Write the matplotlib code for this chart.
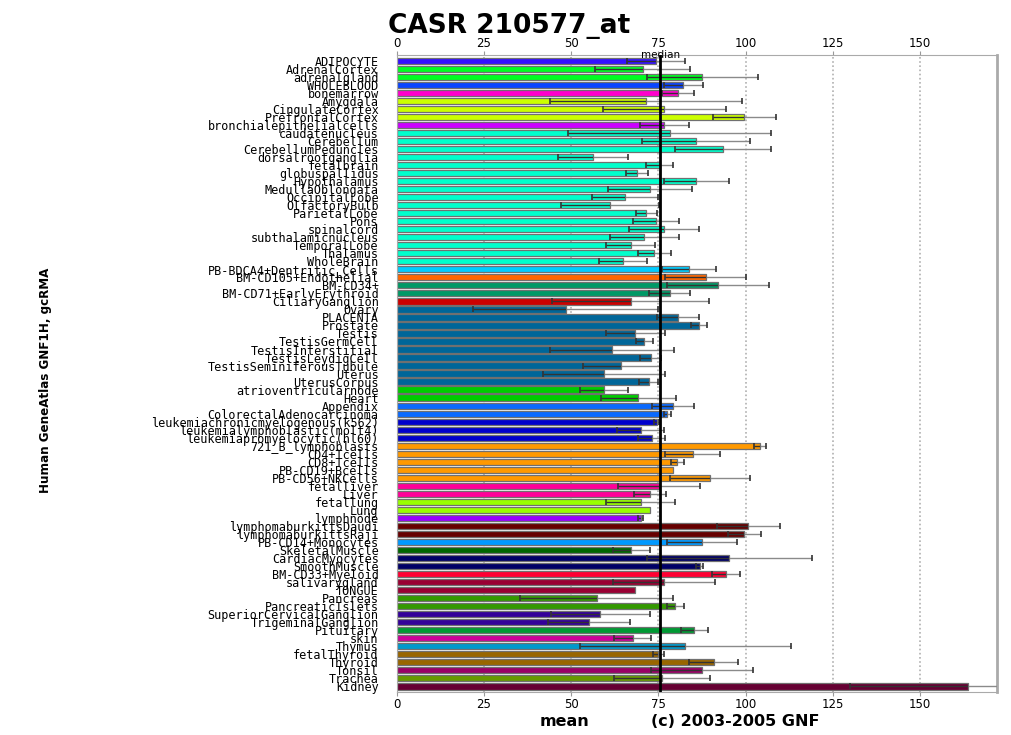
import numpy as np
import matplotlib.pyplot as plt

tissues = ["ADIPOCYTE", "AdrenalCortex", "adrenalgland", "WHOLEBLOOD", "bonemarrow",
           "Amygdala", "CingulateCortex", "PrefrontalCortex", "bronchialepithelialcells",
           "caudatenucleus", "Cerebellum", "CerebellumPeduncles", "dorsalrootganglia",
           "fetalbrain", "globuspallidus", "Hypothalamus", "MedullaOblongata",
           "OccipitalLobe", "OlfactoryBulb", "ParietalLobe", "Pons", "spinalcord",
           "subthalamicnucleus", "TemporalLobe", "Thalamus", "WholeBrain",
           "PB-BDCA4+Dentritic_Cells", "BM-CD105+Endothelial", "BM-CD34+",
           "BM-CD71+EarlyErythroid", "CiliaryGanglion", "Ovary", "PLACENTA", "Prostate",
           "Testis", "TestisGermCell", "TestisInterstitial", "TestisLeydigCell",
           "TestisSeminiferousTubule", "Uterus", "UterusCorpus", "atrioventricularnode",
           "Heart", "Appendix", "ColorectalAdenocarcinoma",
           "leukemiachronicmyelogenous(k562)", "leukemialymphoblastic(molt4)",
           "leukemiapromyelocytic(hl60)", "721_B_lymphoblasts", "CD4+Tcells",
           "CD8+Tcells", "PB-CD19+Bcells", "PB-CD56+NKCells", "fetalliver", "Liver",
           "fetallung", "Lung", "lymphnode", "lymphomaburkittsDaudi",
           "lymphomaburkittsRaji", "PB-CD14+Monocytes", "SkeletalMuscle",
           "CardiacMyocytes", "SmoothMuscle", "BM-CD33+Myeloid", "salivarygland",
           "TONGUE", "Pancreas", "PancreaticIslets", "SuperiorCervicalGanglion",
           "TrigeminalGanglion", "Pituitary", "skin", "Thymus", "fetalThyroid",
           "Thyroid", "Tonsil", "Trachea", "Kidney"]

means = [74.3, 70.5, 87.6, 82.1, 80.5, 71.5, 76.7, 99.6, 76.7, 78.2,
         85.9, 93.6, 56.2, 75.4, 68.9, 85.9, 72.7, 65.5, 61.1, 71.5,
         74.3, 76.7, 71.0, 67.1, 73.8, 64.9, 83.7, 88.6, 92.0, 78.2,
         67.1, 48.5, 80.5, 86.6, 68.4, 71.0, 61.7, 72.8, 64.4, 59.3,
         72.2, 59.4, 69.3, 79.3, 77.6, 74.5, 69.9, 73.1, 104.2, 84.8,
         80.4, 79.3, 89.8, 75.2, 72.6, 69.9, 72.5, 69.9, 100.8, 99.6,
         87.5, 67.2, 95.3, 86.9, 94.3, 76.6, 68.3, 57.3, 79.8, 58.4,
         55.1, 85.3, 67.6, 82.7, 75.0, 90.9, 87.5, 76.1, 163.6]

sds = [8.3, 13.6, 16.0, 5.6, 4.6, 27.5, 17.7, 9.0, 7.0, 29.0,
       15.5, 13.8, 10.0, 3.9, 3.1, 9.2, 12.0, 9.5, 14.0, 3.0,
       6.7, 10.0, 10.0, 7.0, 4.7, 6.8, 7.7, 11.6, 14.6, 6.0,
       22.5, 26.5, 6.0, 2.2, 8.5, 2.5, 17.7, 3.0, 11.0, 17.5,
       2.7, 7.0, 10.7, 6.0, 0.9, 0.8, 6.8, 3.8, 1.7, 7.8,
       1.8, 0.0, 11.4, 11.7, 4.6, 9.9, 0.0, 0.8, 9.0, 4.7,
       10.0, 5.3, 23.6, 1.0, 4.0, 14.6, 0.0, 22.0, 2.4, 14.2,
       11.7, 3.9, 5.2, 30.2, 1.5, 7.0, 14.6, 13.8, 33.6]

colors = ["#3311ff", "#00ff22", "#00ff22", "#0a44ff", "#ff00cc",
          "#ccff00", "#ccff00", "#ccff00", "#cc00ff"] + ["#00ffcc"] * 17 + \
         ["#00ccff", "#ff6600", "#009966", "#009966", "#cc0000"] + ["#006699"] * 10 + \
         ["#00cc00", "#00cc00", "#0a6aff", "#0a6aff", "#0000cc", "#0000cc", "#0000cc"] + \
         ["#ff9900"] * 5 + \
         ["#ff0099", "#ff0099", "#99ff00", "#99ff00", "#9900ff", "#660000", "#660000",
          "#0099ff", "#006600", "#000066", "#000066", "#ff0033", "#990033", "#990033",
          "#339900", "#339900", "#330099", "#330099", "#009933", "#cc0099", "#0099cc",
          "#996600", "#996600", "#990066", "#669900", "#660033"]

median = 75.6

fig = plt.figure(figsize=(10.12, 7.35), dpi=100)
ax = fig.add_axes([0.392, 0.0585, 0.593, 0.8665])

y = np.arange(len(tissues))
m = np.array(means)
s = np.array(sds)

ax.barh(y, m, height=0.78, color=colors, edgecolor="#707070", linewidth=0.9, zorder=2)

# error bars: dark part inside the bar, lighter part outside
ax.hlines(y, m - s, m, color="#333333", linewidth=1.0, zorder=3)
ax.hlines(y, m, m + s, color="#8a8a8a", linewidth=1.0, zorder=3)
has = s > 0
ax.plot(m[has] - s[has], y[has], "|", color="#333333", markersize=4, mew=1.2, zorder=3)
ax.plot(m[has] + s[has], y[has], "|", color="#333333", markersize=4, mew=1.2, zorder=3)

ax.axvline(median, color="black", linewidth=2, zorder=4)
ax.text(median, -0.75, "median", ha="center", va="center", fontsize=7.5, zorder=5)

ax.set_xlim(0, 172)
ax.set_ylim(len(tissues) - 0.3, -0.7)
ax.set_xticks([0, 25, 50, 75, 100, 125, 150])
ax.grid(axis="x", linestyle=(0, (1, 1.5)), color="#b0b0b0", linewidth=1.2, zorder=0)
ax.tick_params(axis="x", top=True, labeltop=True, bottom=True, labelbottom=True,
               labelsize=8.5, length=3, color="#999999", pad=1)
ax.set_yticks(y)
ax.set_yticklabels(tissues, fontsize=8.5, family="DejaVu Sans Mono")
ax.tick_params(axis="y", length=0, pad=13)
for sp in ax.spines.values():
    sp.set_color("#aaaaaa")
ax.spines["right"].set_linewidth(2)

fig.text(0.503, 0.965, "CASR 210577_at", ha="center", va="center",
         fontsize=19, fontweight="bold")
fig.text(0.045, 0.483, "Human GeneAtlas GNF1H, gcRMA", rotation=90, ha="center",
         va="center", fontsize=9.5, fontweight="bold", fontstretch="condensed")
fig.text(0.558, 0.019, "mean", ha="center", va="center", fontsize=11.5, fontweight="bold")
fig.text(0.727, 0.019, "(c) 2003-2005 GNF", ha="center", va="center", fontsize=11.5,
         fontweight="bold")

fig.savefig("out.png", dpi=100)
